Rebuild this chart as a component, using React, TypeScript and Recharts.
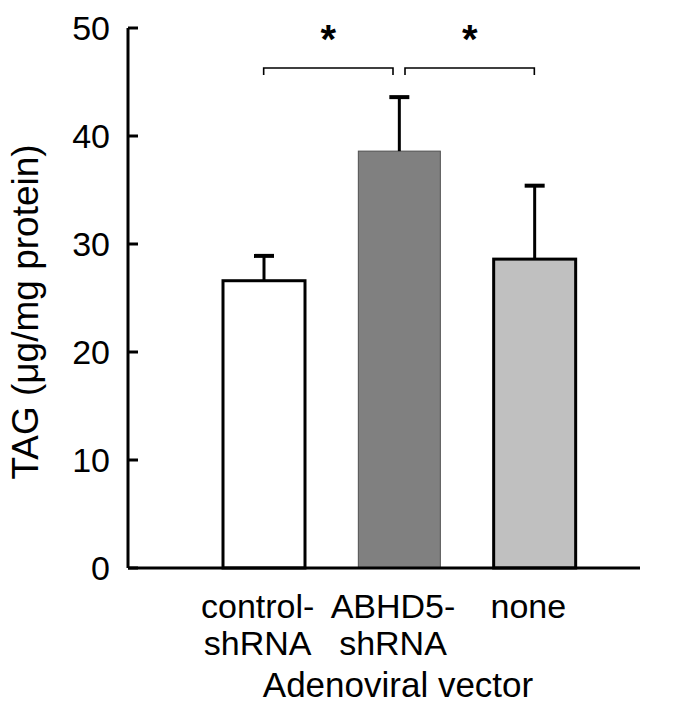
import { BarChart, Bar, XAxis, YAxis, Cell, ReferenceLine } from 'recharts';

const categories = ['control-shRNA', 'ABHD5-shRNA', 'none'];
const tickLines = [['control-', 'shRNA'], ['ABHD5-', 'shRNA'], ['none']];
const means = [26.6, 38.6, 28.6];
const errors = [2.3, 5.0, 6.8];
const yTicks = [0, 10, 20, 30, 40, 50];
const sigPairs = [
  { from: 'control-shRNA', to: 'ABHD5-shRNA', mark: '*' },
  { from: 'ABHD5-shRNA', to: 'none', mark: '*' },
];
const sigLevel = 46.3;

const FONT = '"Liberation Sans", Arial, sans-serif';
const fills = ['#ffffff', '#808080', '#c0c0c0'];
const strokes = ['#000000', '#505050', '#000000'];
const strokeWidths = [3, 1, 3];

const data = categories.map((name, i) => ({ name, value: means[i], err: errors[i] }));

const BarWithError = (props: any) => {
  const { x, y, width, height, payload, index } = props;
  const pxPerUnit = height / payload.value;
  const top = y - payload.err * pxPerUnit;
  const cx = x + width / 2;
  return (
    <g>
      <rect
        x={x}
        y={y}
        width={width}
        height={height}
        fill={fills[index]}
        stroke={strokes[index]}
        strokeWidth={strokeWidths[index]}
      />
      <line x1={cx} x2={cx} y1={y} y2={top} stroke="#000" strokeWidth={3} />
      <line x1={cx - 10} x2={cx + 10} y1={top} y2={top} stroke="#000" strokeWidth={4} />
    </g>
  );
};

const CategoryTick = ({ x, y, payload }: any) => {
  const idx = categories.indexOf(payload.value);
  const lines = tickLines[idx] || [payload.value];
  return (
    <text x={x} y={y} fill="#000" fontSize={34} fontFamily={FONT} textAnchor="middle">
      {lines.map((l, i) => (
        <tspan key={i} x={x - 6} dy={i === 0 ? 50 : 37}>
          {l}
        </tspan>
      ))}
    </text>
  );
};

const makeBracket = (mark: string, leftInset: number, rightInset: number) => (props: any) => {
  const { x1, y1, x2 } = props;
  const a = x1 + leftInset;
  const b = x2 - rightInset;
  return (
    <g>
      <path
        d={`M${a},${y1 + 7} L${a},${y1} L${b},${y1} L${b},${y1 + 7}`}
        fill="none"
        stroke="#000"
        strokeWidth={1.6}
      />
      <text
        x={(a + b) / 2}
        y={y1 - 15}
        textAnchor="middle"
        fontSize={40}
        fontWeight="bold"
        fontFamily={FONT}
        fill="#000"
      >
        {mark}
      </text>
    </g>
  );
};

export default function App() {
  return (
    <div style={{ position: 'absolute', left: 0, top: 0, background: '#fff' }}>
      <BarChart
        width={682}
        height={712}
        data={data}
        margin={{ top: 28, right: 42, bottom: 0, left: 68 }}
      >
        <XAxis
          dataKey="name"
          type="category"
          height={144}
          padding={{ left: 68, right: 38 }}
          axisLine={{ stroke: '#000', strokeWidth: 3 }}
          tickLine={false}
          tickSize={0}
          tickMargin={0}
          interval={0}
          tick={<CategoryTick />}
          label={{
            content: (p: any) => {
              const vb = p.viewBox;
              return (
                <text
                  x={vb.x + vb.width / 2 + 14}
                  y={vb.y + 129}
                  textAnchor="middle"
                  fontSize={35}
                  fontFamily={FONT}
                  fill="#000"
                >
                  Adenoviral vector
                </text>
              );
            },
          }}
        />
        <YAxis
          type="number"
          domain={[0, 50]}
          ticks={yTicks}
          width={60}
          axisLine={{ stroke: '#000', strokeWidth: 3 }}
          tickLine={{ stroke: '#000', strokeWidth: 3 }}
          tickSize={-10}
          tickMargin={28}
          tick={{ fill: '#000', fontSize: 34, fontFamily: FONT }}
          label={{
            content: (p: any) => {
              const vb = p.viewBox;
              const cx = vb.x - 43;
              const cy = vb.y + vb.height / 2 + 14;
              return (
                <text
                  x={cx}
                  y={cy}
                  transform={`rotate(-90 ${cx} ${cy})`}
                  textAnchor="middle"
                  dominantBaseline="central"
                  fontSize={37}
                  fontFamily={FONT}
                  fill="#000"
                >
                  TAG (μg/mg protein)
                </text>
              );
            },
          }}
        />
        <Bar dataKey="value" barSize={82} isAnimationActive={false} shape={<BarWithError />}>
          {data.map((d, i) => (
            <Cell key={d.name} fill={fills[i]} />
          ))}
        </Bar>
        {sigPairs.map((s, i) => (
          <ReferenceLine
            key={i}
            segment={[
              { x: s.from, y: sigLevel },
              { x: s.to, y: sigLevel },
            ]}
            shape={makeBracket(s.mark, i === 0 ? 0 : 6, i === 0 ? 6 : 0)}
          />
        ))}
      </BarChart>
    </div>
  );
}
